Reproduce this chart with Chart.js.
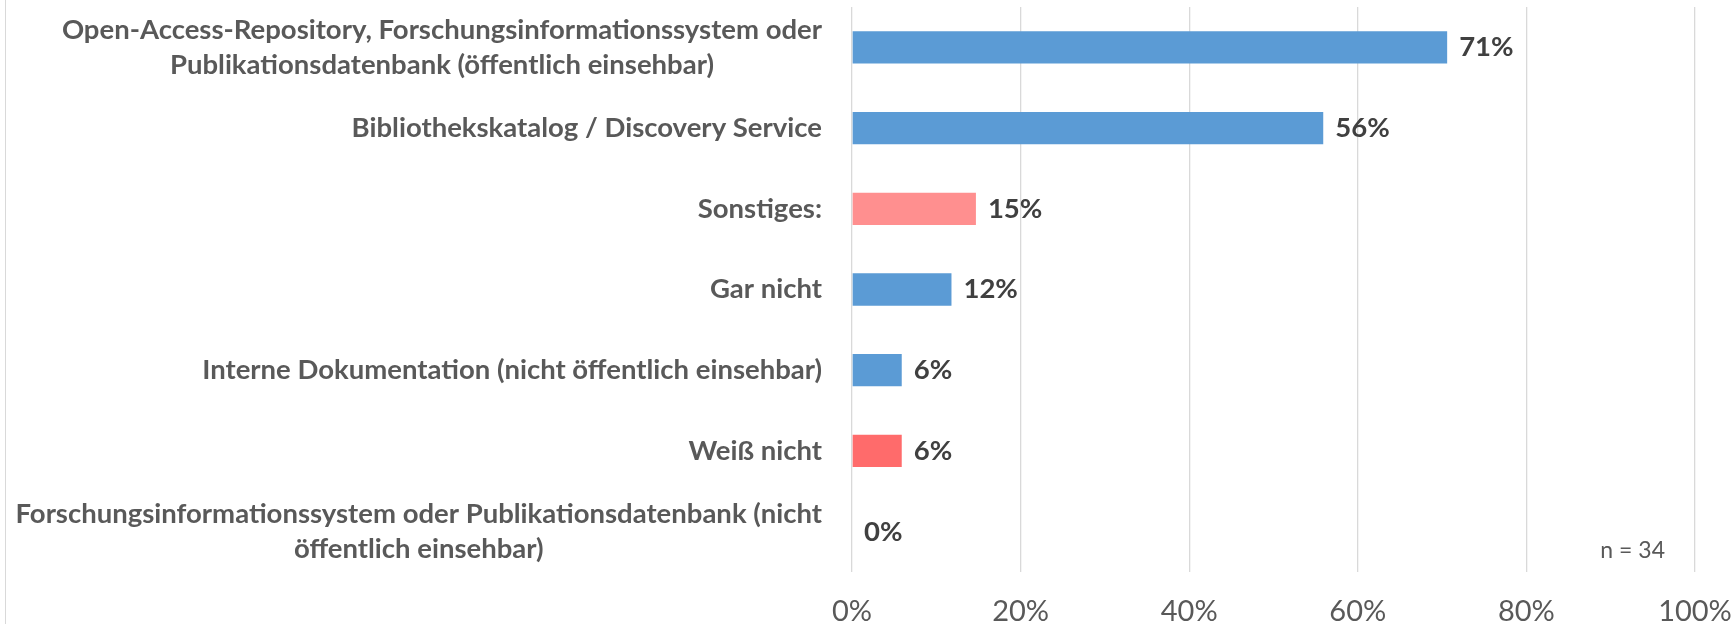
<!DOCTYPE html>
<html>
<head>
<meta charset="utf-8">
<script src="https://cdn.jsdelivr.net/npm/chart.js@4/dist/chart.umd.min.js"></script>
<style>
	html, body { margin: 0; padding: 0; background: #fff; }
	#wrap { position: relative; width: 1731px; height: 624px; }
	#frame { position: absolute; left: 5px; top: 0; bottom: 0; border-left: 1px solid #d9d9d9; }
</style>
</head>
<body>
<div id="wrap">
	<div id="frame"></div>
	<canvas id="chart"></canvas>
</div>
<script>
const categories = [
	['Open-Access-Repository, Forschungsinformationssystem oder', 'Publikationsdatenbank (öffentlich einsehbar)'],
	'Bibliothekskatalog / Discovery Service',
	'Sonstiges:',
	'Gar nicht',
	'Interne Dokumentation (nicht öffentlich einsehbar)',
	'Weiß nicht',
	['Forschungsinformationssystem oder Publikationsdatenbank (nicht', 'öffentlich einsehbar)']
];
const shares = [70.6, 55.9, 14.7, 11.8, 5.9, 5.9, 0];
const barColors = ['#5b9bd5', '#5b9bd5', '#ff8f8f', '#5b9bd5', '#5b9bd5', '#ff6b6b', '#5b9bd5'];
const xTicks = [0, 20, 40, 60, 80, 100];
const sampleNote = 'n = 34';

const FONT = 'Lato';
const labelSize = 27.5;

// category labels: each label centred on its own widest line, block right-aligned
const yLabels = {
	id: 'yLabels',
	afterDraw(chart) {
		const { ctx, scales: { y } } = chart;
		ctx.save();
		ctx.font = `bold ${labelSize}px ${FONT}`;
		ctx.fillStyle = '#595959';
		ctx.textAlign = 'center';
		ctx.textBaseline = 'middle';
		categories.forEach((c, i) => {
			const lines = [].concat(c);
			const w = Math.max(...lines.map((l) => ctx.measureText(l).width));
			const cx = chart.chartArea.left - 30 - w / 2;
			const cy = y.getPixelForTick(i);
			lines.forEach((l, j) => ctx.fillText(l, cx, cy + (j - (lines.length - 1) / 2) * 35));
		});
		ctx.restore();
	}
};

const valueLabels = {
	id: 'valueLabels',
	afterDatasetsDraw(chart) {
		const { ctx } = chart;
		const meta = chart.getDatasetMeta(0);
		ctx.save();
		ctx.font = `bold ${labelSize}px ${FONT}`;
		ctx.fillStyle = '#404040';
		ctx.textAlign = 'left';
		ctx.textBaseline = 'middle';
		meta.data.forEach((bar, i) => {
			ctx.fillText(Math.round(shares[i]) + '%', bar.x + 12, bar.y);
		});
		ctx.restore();
	}
};

const note = {
	id: 'note',
	afterDraw(chart) {
		const { ctx, chartArea } = chart;
		ctx.save();
		ctx.font = `23px ${FONT}`;
		ctx.fillStyle = '#595959';
		ctx.textAlign = 'right';
		ctx.textBaseline = 'middle';
		ctx.fillText(sampleNote, chartArea.right - 30, chartArea.bottom - 21);
		ctx.restore();
	}
};

new Chart(document.getElementById('chart'), {
	type: 'bar',
	data: {
		labels: categories,
		datasets: [{
			data: shares,
			backgroundColor: barColors,
			barPercentage: 0.4,
			categoryPercentage: 1
		}]
	},
	options: {
		indexAxis: 'y',
		responsive: true,
		maintainAspectRatio: false,
		animation: false,
		layout: { padding: { top: 7, right: 36, bottom: 0, left: 0 } },
		plugins: {
			legend: { display: false },
			tooltip: { enabled: false }
		},
		scales: {
			x: {
				min: 0,
				max: 100,
				afterBuildTicks: (scale) => { scale.ticks = xTicks.map((v) => ({ value: v })); },
				afterFit: (scale) => {
					scale.height = 52;
					scale.paddingLeft = 0;
					scale.paddingRight = 0;
				},
				grid: { color: '#d9d9d9', lineWidth: 1.3, drawTicks: false },
				border: { display: false },
				ticks: {
					padding: 22,
					color: '#595959',
					font: { family: FONT, size: 29 },
					callback: (v) => v + '%'
				}
			},
			y: {
				grid: { display: false },
				border: { display: false },
				ticks: { display: false },
				afterFit: (scale) => { scale.width = 852; }
			}
		}
	},
	plugins: [yLabels, valueLabels, note]
});
</script>
</body>
</html>
